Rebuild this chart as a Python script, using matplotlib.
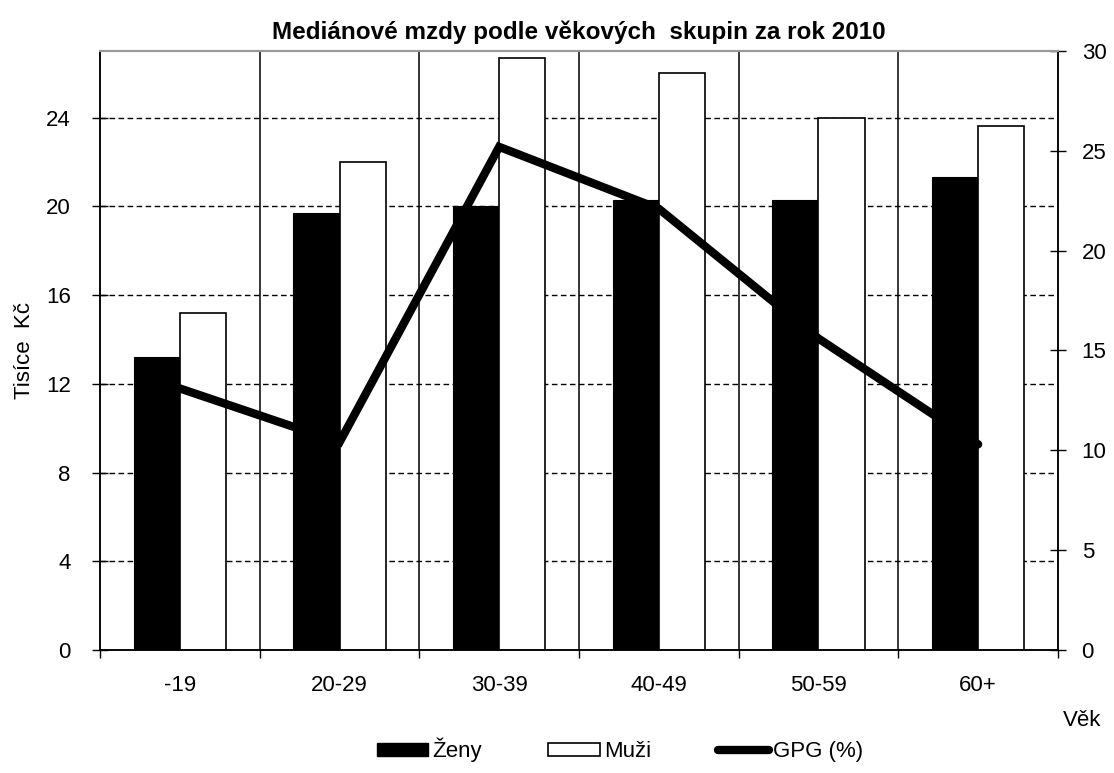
import matplotlib.pyplot as plt
import matplotlib.patches as mpatches
from matplotlib.lines import Line2D
import numpy as np

plt.rcParams['font.family'] = ['Liberation Sans', 'DejaVu Sans']

# ── Data ────────────────────────────────────────────────────────────────────
ages  = ['-19', '20-29', '30-39', '40-49', '50-59', '60+']
zeny  = [13.2, 19.7, 20.0, 20.3, 20.3, 21.3]   # tisíce Kč
muzi  = [15.2, 22.0, 26.7, 26.0, 24.0, 23.6]
gpg   = [13.1, 10.4, 25.2, 22.1, 15.6, 10.3]   # %

FS = 16

fig = plt.figure(figsize=(11.14, 7.73), dpi=100, facecolor='white')
ax = fig.add_axes([100/1114, 1 - 650/773, 958/1114, 599/773])
ax2 = ax.twinx()

x = np.arange(len(ages))
w = 0.29

ax.bar(x - w/2, zeny, w, color='black', edgecolor='black', linewidth=0.8, zorder=3)
ax.bar(x + w/2, muzi, w, color='white', edgecolor='black', linewidth=1.2, zorder=3)

ax2.plot(x, gpg, color='black', linewidth=6, solid_capstyle='round',
         solid_joinstyle='miter', zorder=4)

ax.set_xlim(-0.5, len(ages) - 0.5)
ax.set_ylim(0, 27)
ax2.set_ylim(0, 30)

ax.set_yticks(np.arange(0, 25, 4))
ax2.set_yticks(np.arange(0, 31, 5))

# category boundaries: ticks + vertical grid
ax.set_xticks(np.arange(-0.5, len(ages) - 0.4, 1))
ax.set_xticklabels([])
ax.set_xticks(x, minor=True)
ax.set_xticklabels(ages, minor=True)
ax.tick_params(axis='x', which='minor', length=0, pad=18, labelsize=FS)
ax.tick_params(axis='x', which='major', direction='out', length=6, width=1)
ax.tick_params(axis='y', direction='inout', length=12, width=1, labelsize=FS, pad=15)
ax2.tick_params(axis='y', direction='inout', length=12, width=1, labelsize=FS, pad=11)

for b in np.arange(0.5, len(ages) - 0.5, 1):
    ax.axvline(b, color='black', linewidth=1.1, zorder=1)
for yv in np.arange(4, 25, 4):
    ax.axhline(yv, color='black', linewidth=1, linestyle=(0, (4, 2.5)), zorder=1)

for a in (ax, ax2):
    a.spines['top'].set_color('#999999')
    a.spines['top'].set_linewidth(1.5)
    for s in ('left', 'right', 'bottom'):
        a.spines[s].set_color('black')
        a.spines[s].set_linewidth(1.1)

ax.set_ylabel('Tisíce  Kč', fontsize=FS, labelpad=8)
ax.set_title('Mediánové mzdy podle věkových  skupin za rok 2010',
             fontsize=17.5, fontweight='bold', pad=9)
fig.text(1082/1114, 1 - 720/773, 'Věk', fontsize=FS, ha='center', va='center')

handles = [mpatches.Patch(facecolor='black', edgecolor='black'),
           mpatches.Patch(facecolor='white', edgecolor='black', linewidth=1.2),
           Line2D([0], [0], color='black', linewidth=6, solid_capstyle='round')]
fig.legend(handles, ['Ženy', 'Muži', 'GPG (%)'], loc='center',
           bbox_to_anchor=(620/1114, 1 - 750/773), ncol=3, frameon=False,
           fontsize=FS, handlelength=2.3, handleheight=0.55,
           handletextpad=0.2, columnspacing=3.0, borderpad=0)

fig.savefig('out.png', dpi=100, facecolor='white')
